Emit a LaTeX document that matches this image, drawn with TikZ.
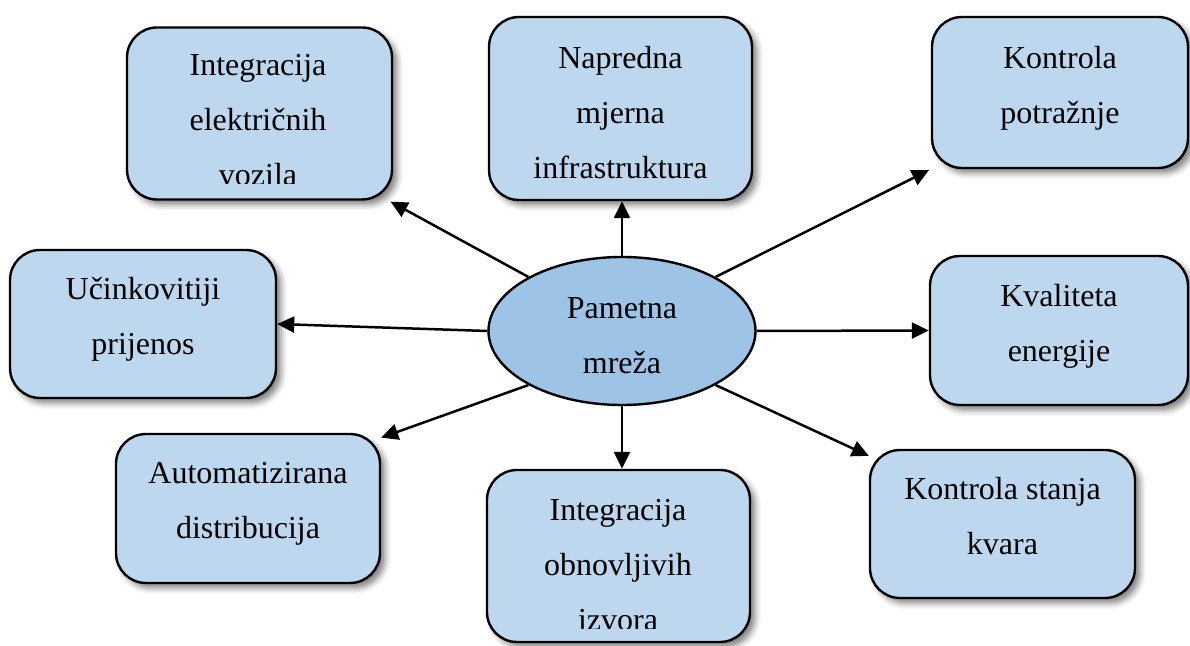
\documentclass[tikz,border=0pt]{standalone}
\usepackage{fontspec}
\setmainfont{Liberation Serif}
\usetikzlibrary{shapes.geometric, arrows.meta, shadows.blur}

\definecolor{boxblue}{HTML}{BDD7EE}
\definecolor{hubblue}{HTML}{9DC3E6}

\begin{document}
\begin{tikzpicture}[x=0.5pt, y=-0.5pt,
    box/.style={rectangle, draw, line width=1.2pt, rounded corners=15pt, fill=boxblue, align=center, text depth=8pt,
        font=\fontsize{16}{27.5}\selectfont,
        blur shadow={shadow xshift=2.5pt, shadow yshift=-2.5pt, shadow blur radius=3pt, shadow opacity=50}},
    boxtext/.style={align=center, inner sep=0pt, font=\fontsize{16}{27.5}\selectfont},
    hub/.style={ellipse, draw, line width=1.2pt, fill=hubblue, inner sep=0pt,
        minimum width=133.5pt, minimum height=74pt},
    arrow/.style={-{Triangle[length=8.5pt, width=8pt]}, line width=1.25pt}
]
\useasboundingbox (0,0) rectangle (1190,646);

% centre
\node[hub] (hub) at (622,331) {};
\node[boxtext] (hubtext) at (622,336) {Pametna\\mreža};

% outer boxes
\node[box, minimum width=132.5pt, minimum height=86pt] (ev) at (259.5,113.5) {};
\begin{scope}
    \clip (ev.north west) rectangle ([yshift=8.5pt]ev.south east);
    \node[boxtext] (evtext) at (258,120) {Integracija\\električnih\\vozila};
\end{scope}

\node[box, minimum width=131.5pt, minimum height=91.5pt] (ami) at (620.5,108.5) {};
\node[boxtext] (amitext) at (620.5,113) {Napredna\\mjerna\\infrastruktura};

\node[box, minimum width=128pt, minimum height=75.5pt] (dr) at (1060,92.5) {Kontrola\\potražnje};
\node[box, minimum width=133pt, minimum height=74pt] (tr) at (143,324) {Učinkovitiji\\prijenos};
\node[box, minimum width=129pt, minimum height=74.5pt] (pq) at (1059,330.5) {Kvaliteta\\energije};
\node[box, minimum width=132pt, minimum height=74.5pt] (ad) at (248,508.5) {Automatizirana\\distribucija};

\node[box, minimum width=131.5pt, minimum height=86pt] (res) at (618.5,556) {};
\begin{scope}
    \clip (res.north west) rectangle ([yshift=7.5pt]res.south east);
    \node[boxtext] (restext) at (618,565) {Integracija\\obnovljivih\\izvora};
\end{scope}

\node[box, minimum width=132.5pt, minimum height=74pt] (fc) at (1002.5,524) {Kontrola stanja\\kvara};

% connectors
\draw[arrow, shorten >=1pt] (hub.150) -- (ev.-34);
\draw[arrow] (hub.north) -- (hub.north |- ami.south);
\draw[arrow, shorten >=1pt] (hub.30) -- (dr.south west);
\draw[arrow] (hub.west) -- (tr.east);
\draw[arrow] (hub.east) -- (pq.west);
\draw[arrow] (hub.210) -- (ad.28);
\draw[arrow] (hub.south) -- (hub.south |- res.north);
\draw[arrow] (hub.330) -- (fc.153);
\end{tikzpicture}
\end{document}
